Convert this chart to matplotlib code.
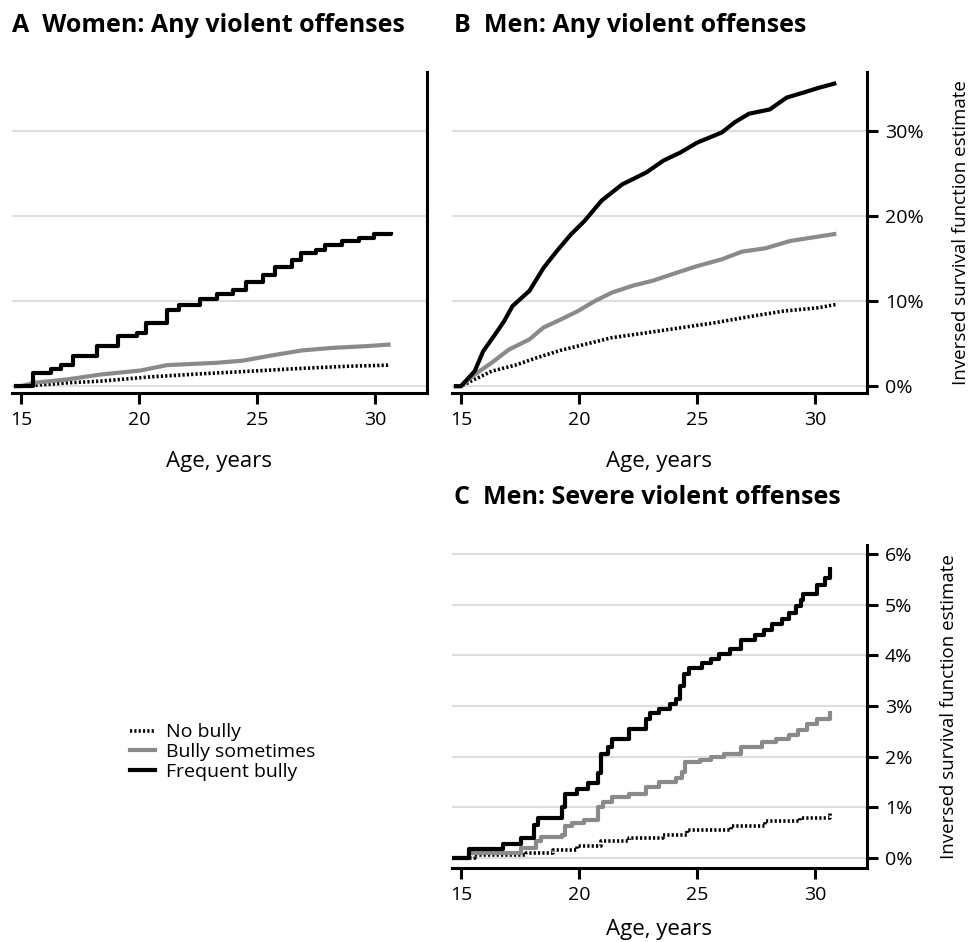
import matplotlib.pyplot as plt
from matplotlib.lines import Line2D

# ======================================================
# Data
# ======================================================

GROUPS = ["No bully", "Bully sometimes", "Frequent bully"]

# A: women, any violent offenses (percent)
a_none_age = [14.7, 15.0, 17.0, 18.4, 20.5, 22.6, 24.7, 26.8, 28.9, 30.6]
a_none_val = [0.0, 0.0, 0.4, 0.6, 1.1, 1.45, 1.76, 2.08, 2.35, 2.47]
a_some_age = [14.7, 15.0, 15.56, 16.97, 18.37, 20.06, 21.18, 23.3, 24.4, 25.7,
              26.9, 28.2, 29.6, 30.66]
a_some_val = [0.0, 0.0, 0.4, 0.8, 1.37, 1.84, 2.47, 2.75, 3.0, 3.65,
              4.2, 4.5, 4.7, 4.9]
a_freq_age = [14.7, 15.0, 15.5, 16.26, 16.7, 17.2, 18.2, 19.1, 19.9, 20.3,
              21.2, 21.7, 22.6, 23.3, 24.0, 24.55, 25.25, 25.74, 26.5, 26.87,
              27.5, 27.9, 28.6, 29.3, 29.96, 30.66]
a_freq_val = [0.0, 0.0, 1.57, 1.96, 2.5, 3.5, 4.7, 5.9, 6.3, 7.45,
              9.0, 9.5, 10.2, 10.8, 11.25, 12.2, 13.0, 14.0, 14.8, 15.7,
              16.0, 16.6, 17.05, 17.45, 17.9, 18.15]

# B: men, any violent offenses (percent)
b_none_age = [14.7, 15.0, 15.58, 16.3, 17.3, 18.2, 19.2, 20.23, 21.4, 22.85,
              24.3, 25.75, 27.2, 28.66, 30.1, 30.9]
b_none_val = [0.0, 0.0, 0.8, 1.76, 2.47, 3.33, 4.2, 4.9, 5.7, 6.27,
              6.86, 7.45, 8.16, 8.82, 9.2, 9.6]
b_some_age = [14.7, 15.0, 15.58, 16.3, 17.03, 17.9, 18.5, 19.2, 19.94, 20.67,
              21.4, 22.27, 23.14, 24.0, 25.0, 26.05, 26.9, 27.9, 28.95, 29.97,
              30.9]
b_some_val = [0.0, 0.0, 1.37, 2.75, 4.3, 5.5, 6.9, 7.8, 8.8, 10.0,
              11.0, 11.8, 12.4, 13.2, 14.1, 14.9, 15.8, 16.2, 17.06, 17.5,
              17.9]
b_freq_age = [14.7, 15.0, 15.58, 15.94, 16.45, 16.82, 17.18, 17.9, 18.5, 19.07,
              19.65, 20.23, 20.96, 21.83, 22.85, 23.58, 24.3, 25.0, 26.05, 26.6,
              27.2, 28.08, 28.8, 29.53, 30.1, 30.9]
b_freq_val = [0.0, 0.0, 1.76, 4.1, 6.1, 7.6, 9.4, 11.2, 13.9, 15.9,
              17.8, 19.4, 21.8, 23.7, 25.1, 26.5, 27.45, 28.6, 29.8, 31.0,
              32.0, 32.5, 33.9, 34.5, 35.0, 35.6]

# C: men, severe violent offenses (percent)
c_none_age = [14.6, 15.58, 17.75, 18.9, 19.93, 20.94, 22.1, 23.55, 24.57, 26.45,
              27.9, 29.35, 30.65]
c_none_val = [0.0, 0.065, 0.1, 0.16, 0.23, 0.33, 0.39, 0.46, 0.56, 0.63,
              0.72, 0.78, 0.88]
c_some_age = [14.6, 15.36, 17.54, 18.19, 18.4, 19.28, 19.42, 19.7, 20.22, 20.8,
              21.01, 21.38, 22.1, 22.83, 23.4, 24.13, 24.35, 24.5, 25.14, 25.58,
              26.16, 26.88, 27.75, 28.33, 28.9, 29.28, 29.64, 30.07, 30.65]
c_some_val = [0.0, 0.1, 0.2, 0.33, 0.42, 0.46, 0.62, 0.69, 0.74, 1.01,
              1.11, 1.21, 1.27, 1.4, 1.49, 1.57, 1.7, 1.9, 1.93, 1.99,
              2.06, 2.19, 2.29, 2.35, 2.43, 2.52, 2.65, 2.75, 2.91]
c_freq_age = [14.6, 15.36, 16.8, 17.54, 18.1, 18.26, 19.28, 19.42, 19.93, 20.36,
              20.8, 20.94, 21.23, 21.38, 22.1, 22.83, 23.0, 23.4, 23.84, 24.13,
              24.28, 24.45, 24.64, 25.22, 25.58, 25.94, 26.38, 26.88, 27.46, 27.83,
              28.19, 28.62, 28.91, 29.2, 29.42, 29.49, 30.07, 30.43, 30.65]
c_freq_val = [0.0, 0.18, 0.28, 0.39, 0.65, 0.78, 1.0, 1.27, 1.37, 1.47,
              1.67, 2.06, 2.19, 2.35, 2.55, 2.75, 2.86, 2.95, 3.04, 3.14,
              3.4, 3.64, 3.76, 3.84, 3.92, 4.02, 4.12, 4.31, 4.4, 4.51,
              4.61, 4.71, 4.84, 4.97, 5.1, 5.21, 5.39, 5.52, 5.75]

XTICKS = [15, 20, 25, 30]

# ======================================================
# Setup
# ======================================================

plt.rcParams["font.family"] = ["Open Sans", "DejaVu Sans"]

STYLES = {
    "No bully": dict(color="black", lw=2.6, linestyle=(0, (0.6, 0.6))),
    "Bully sometimes": dict(color="#8a8a8a", lw=3.0, linestyle="-"),
    "Frequent bully": dict(color="black", lw=3.0, linestyle="-"),
}
GRID_COLOR = "#dedede"
W, H = 978, 942


def axes_rect(left, top, right, bottom):
    return [left / W, 1 - bottom / H, (right - left) / W, (bottom - top) / H]


def style_axes(ax, ylim, yticks, show_labels, xlabel_pad=16):
    ax.set_xlim(14.62, 32.2)
    ax.set_ylim(*ylim)
    ax.set_xticks(XTICKS)
    ax.set_yticks(yticks)
    for y in yticks:
        ax.axhline(y, color=GRID_COLOR, lw=1.5, zorder=0)
    ax.spines["top"].set_visible(False)
    ax.spines["left"].set_visible(False)
    for s in ("right", "bottom"):
        ax.spines[s].set_linewidth(2.2)
    ax.yaxis.tick_right()
    ax.tick_params(axis="both", width=2.2, length=8, labelsize=14, pad=5)
    if show_labels:
        ax.set_yticklabels([f"{int(round(v))}%" for v in yticks])
        ax.yaxis.set_label_position("right")
        ax.set_ylabel("Inversed survival function estimate", fontsize=13.5, labelpad=20)
    else:
        ax.tick_params(axis="y", length=0, labelright=False)
    ax.set_xlabel("Age, years", fontsize=16, labelpad=xlabel_pad)


def draw(ax, series, steps):
    for name, (x, y) in zip(GROUPS, series):
        ax.plot(x, y, drawstyle="steps-post" if steps[name] else "default",
                solid_capstyle="butt", **STYLES[name])


# ======================================================
# PLOT
# ======================================================

fig = plt.figure(figsize=(9.78, 9.42), dpi=100)

ax_a = fig.add_axes(axes_rect(12, 72, 427, 393))
ax_b = fig.add_axes(axes_rect(452, 72, 867, 393))
ax_c = fig.add_axes(axes_rect(452, 545, 867, 868))

draw(ax_a, [(a_none_age, a_none_val), (a_some_age, a_some_val), (a_freq_age, a_freq_val)],
     {"No bully": False, "Bully sometimes": False, "Frequent bully": True})
draw(ax_b, [(b_none_age, b_none_val), (b_some_age, b_some_val), (b_freq_age, b_freq_val)],
     {"No bully": False, "Bully sometimes": False, "Frequent bully": False})
draw(ax_c, [(c_none_age, c_none_val), (c_some_age, c_some_val), (c_freq_age, c_freq_val)],
     {"No bully": True, "Bully sometimes": True, "Frequent bully": True})

style_axes(ax_a, (-0.8, 36.9), [0, 10, 20, 30], False)
style_axes(ax_b, (-0.8, 36.9), [0, 10, 20, 30], True)
style_axes(ax_c, (-0.2, 6.18), [0, 1, 2, 3, 4, 5, 6], True, xlabel_pad=11)

# panel titles
title_kw = dict(fontsize=18, fontweight="bold", va="center", ha="left")
fig.text(12 / W, 1 - 25 / H, "A  Women: Any violent offenses", **title_kw)
fig.text(454 / W, 1 - 25 / H, "B  Men: Any violent offenses", **title_kw)
fig.text(454 / W, 1 - 497 / H, "C  Men: Severe violent offenses", **title_kw)

# legend
handles = [Line2D([0], [0], **STYLES[g]) for g in GROUPS]
fig.legend(handles, GROUPS, loc="center left", bbox_to_anchor=(130 / W, 1 - 752 / H),
           frameon=False, fontsize=14, handlelength=1.3, handletextpad=0.55,
           labelspacing=0.08, borderpad=0, borderaxespad=0)

fig.savefig("out.png", dpi=100)
